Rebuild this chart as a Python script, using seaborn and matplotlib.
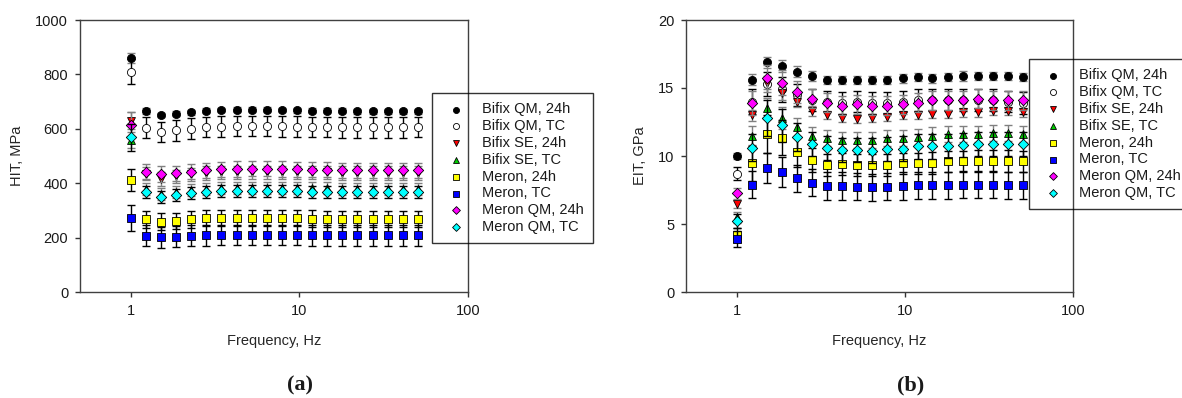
import matplotlib
matplotlib.use("Agg")
import matplotlib.pyplot as plt
import seaborn as sns

# --- data ---
freq = [1.0, 1.23, 1.51, 1.86, 2.28, 2.81, 3.45, 4.24, 5.21, 6.41,
        7.88, 9.69, 11.9, 14.6, 18.0, 22.1, 27.2, 33.4, 41.1, 50.5]

labels = ["Bifix QM, 24h", "Bifix QM, TC", "Bifix SE, 24h", "Bifix SE, TC",
          "Meron, 24h", "Meron, TC", "Meron QM, 24h", "Meron QM, TC"]

# HIT, MPa
hit_bqm_24 = [861, 665, 651, 655, 661, 667, 669, 670, 670, 670, 669, 668, 667, 667, 667, 665, 664, 664, 664, 665]
hit_bqm_tc = [810, 604, 588, 594, 600, 607, 608, 610, 610, 610, 609, 608, 607, 607, 606, 605, 605, 605, 606, 607]
hit_bse_24 = [630, 435, 415, 425, 432, 438, 440, 440, 440, 440, 440, 440, 440, 440, 438, 438, 438, 438, 438, 438]
hit_bse_tc = [560, 378, 362, 368, 374, 380, 382, 382, 383, 383, 382, 382, 381, 381, 380, 380, 380, 380, 380, 380]
hit_mer_24 = [412, 267, 259, 260, 267, 271, 272, 273, 272, 272, 272, 271, 270, 269, 269, 269, 269, 269, 269, 269]
hit_mer_tc = [272, 207, 201, 203, 207, 208, 210, 210, 210, 210, 209, 209, 208, 208, 208, 208, 208, 208, 208, 208]
hit_mqm_24 = [615, 442, 434, 436, 442, 448, 451, 452, 453, 453, 452, 451, 450, 449, 448, 447, 447, 447, 447, 447]
hit_mqm_tc = [569, 366, 350, 357, 363, 366, 370, 371, 370, 371, 370, 370, 369, 368, 368, 368, 367, 367, 367, 367]

hit_err_bqm_24 = [18, 10, 8, 9, 9, 9, 9, 9, 9, 9, 9, 9, 9, 9, 9, 9, 9, 9, 9, 9]
hit_err_bqm_tc = [47, 38, 38, 38, 38, 38, 38, 38, 38, 38, 38, 38, 38, 38, 38, 38, 38, 38, 38, 38]
hit_err_bse_24 = [30, 25, 25, 25, 25, 25, 25, 25, 25, 25, 25, 25, 25, 25, 25, 25, 25, 25, 25, 25]
hit_err_bse_tc = [30, 22, 22, 22, 22, 22, 22, 22, 22, 22, 22, 22, 22, 22, 22, 22, 22, 22, 22, 22]
hit_err_mer_24 = [40, 30, 30, 30, 30, 30, 30, 30, 30, 30, 30, 30, 30, 30, 30, 30, 30, 30, 30, 30]
hit_err_mer_tc = [48, 38, 38, 38, 38, 38, 38, 38, 38, 38, 38, 38, 38, 38, 38, 38, 38, 38, 38, 38]
hit_err_mqm_24 = [45, 28, 28, 28, 28, 28, 28, 28, 28, 28, 28, 28, 28, 28, 28, 28, 28, 28, 28, 28]
hit_err_mqm_tc = [50, 22, 22, 22, 22, 22, 22, 22, 22, 22, 22, 22, 22, 22, 22, 22, 22, 22, 22, 22]

# EIT, GPa
eit_bqm_24 = [10.0, 15.6, 16.9, 16.6, 16.2, 15.9, 15.6, 15.6, 15.6, 15.6, 15.6, 15.7, 15.8, 15.7, 15.8, 15.9, 15.9, 15.9, 15.9, 15.8]
eit_bqm_tc = [8.7, 14.0, 15.3, 14.9, 14.5, 14.1, 14.0, 13.9, 14.0, 13.9, 13.9, 14.0, 14.1, 14.1, 14.1, 14.1, 14.1, 14.1, 14.0, 13.9]
eit_bse_24 = [6.5, 13.0, 15.4, 14.6, 14.0, 13.3, 13.0, 12.8, 12.75, 12.8, 12.85, 13.0, 13.0, 13.1, 13.1, 13.2, 13.2, 13.3, 13.3, 13.2]
eit_bse_tc = [5.5, 11.5, 13.5, 12.8, 12.1, 11.5, 11.3, 11.2, 11.2, 11.2, 11.3, 11.3, 11.4, 11.5, 11.6, 11.6, 11.6, 11.7, 11.7, 11.6]
eit_mer_24 = [4.2, 9.45, 11.65, 11.35, 10.3, 9.7, 9.35, 9.4, 9.35, 9.35, 9.35, 9.45, 9.45, 9.5, 9.6, 9.6, 9.65, 9.65, 9.65, 9.6]
eit_mer_tc = [3.9, 7.9, 9.1, 8.8, 8.35, 8.05, 7.8, 7.8, 7.75, 7.7, 7.75, 7.8, 7.85, 7.85, 7.85, 7.9, 7.9, 7.9, 7.85, 7.85]
eit_mqm_24 = [7.25, 13.9, 15.7, 15.4, 14.7, 14.2, 13.9, 13.7, 13.8, 13.7, 13.7, 13.8, 13.9, 14.1, 14.1, 14.1, 14.2, 14.1, 14.1, 14.1]
eit_mqm_tc = [5.2, 10.6, 12.8, 12.25, 11.4, 10.9, 10.6, 10.45, 10.45, 10.4, 10.5, 10.55, 10.7, 10.7, 10.75, 10.8, 10.9, 10.9, 10.9, 10.9]

eit_err_bqm_24 = [0.2, 0.4, 0.4, 0.45, 0.4, 0.35, 0.3, 0.3, 0.3, 0.3, 0.3, 0.3, 0.3, 0.3, 0.3, 0.35, 0.3, 0.3, 0.3, 0.3]
eit_err_bqm_tc = [0.5, 0.9, 0.9, 0.9, 0.8, 0.8, 0.8, 0.8, 0.8, 0.8, 0.8, 0.8, 0.8, 0.8, 0.8, 0.8, 0.8, 0.8, 0.8, 0.8]
eit_err_bse_24 = [0.3, 0.4, 0.5, 0.5, 0.4, 0.35, 0.3, 0.3, 0.3, 0.3, 0.3, 0.3, 0.3, 0.3, 0.3, 0.3, 0.3, 0.3, 0.3, 0.3]
eit_err_bse_tc = [0.4, 0.7, 0.8, 0.8, 0.7, 0.6, 0.6, 0.6, 0.6, 0.6, 0.6, 0.6, 0.6, 0.6, 0.6, 0.6, 0.6, 0.6, 0.6, 0.6]
eit_err_mer_24 = [0.5, 1.3, 1.4, 1.3, 1.1, 0.9, 0.8, 0.8, 0.8, 0.8, 0.8, 0.8, 0.8, 0.8, 0.8, 0.8, 0.8, 0.8, 0.8, 0.8]
eit_err_mer_tc = [0.6, 1.0, 1.1, 1.1, 1.0, 1.0, 1.0, 1.0, 1.0, 1.0, 1.0, 1.0, 1.0, 1.0, 1.0, 1.0, 1.0, 1.0, 1.0, 1.0]
eit_err_mqm_24 = [0.4, 0.9, 1.0, 0.9, 0.8, 0.7, 0.7, 0.7, 0.7, 0.7, 0.7, 0.7, 0.7, 0.7, 0.7, 0.7, 0.7, 0.7, 0.7, 0.7]
eit_err_mqm_tc = [0.5, 1.0, 1.3, 1.2, 1.0, 0.9, 0.9, 0.9, 0.9, 0.9, 0.9, 0.9, 0.9, 0.9, 0.9, 0.9, 0.9, 0.9, 0.9, 0.9]

hit_series = [hit_bqm_24, hit_bqm_tc, hit_bse_24, hit_bse_tc, hit_mer_24, hit_mer_tc, hit_mqm_24, hit_mqm_tc]
hit_errors = [hit_err_bqm_24, hit_err_bqm_tc, hit_err_bse_24, hit_err_bse_tc,
              hit_err_mer_24, hit_err_mer_tc, hit_err_mqm_24, hit_err_mqm_tc]
eit_series = [eit_bqm_24, eit_bqm_tc, eit_bse_24, eit_bse_tc, eit_mer_24, eit_mer_tc, eit_mqm_24, eit_mqm_tc]
eit_errors = [eit_err_bqm_24, eit_err_bqm_tc, eit_err_bse_24, eit_err_bse_tc,
              eit_err_mer_24, eit_err_mer_tc, eit_err_mqm_24, eit_err_mqm_tc]

xticks = [1, 10, 100]
xtick_labels = ["1", "10", "100"]
hit_yticks = [0, 200, 400, 600, 800, 1000]
eit_yticks = [0, 5, 10, 15, 20]

# --- styling ---
colors = ["black", "white", "#ff0000", "#00cc00", "#ffff00", "#0000ff", "#ff00ff", "#00ffff"]
markers = ["o", "o", "v", "^", "s", "s", "D", "D"]
sizes = [34, 34, 32, 32, 32, 32, 28, 28]
bar_colors = ["#808080", "black", "#808080", "#808080", "black", "black", "#808080", "black"]

sns.set_style("ticks")
plt.rcParams["font.family"] = ["Liberation Sans", "DejaVu Sans"]
plt.rcParams["text.color"] = "#1a1a1a"

W, H = 1182, 398
fig = plt.figure(figsize=(W / 100, H / 100), dpi=100)
ax_a = fig.add_axes([80 / W, 1 - 292 / H, 388 / W, 272 / H])
ax_b = fig.add_axes([686 / W, 1 - 292 / H, 387 / W, 272 / H])


def draw_panel(ax, series, errors, yticks, ylabel, leg_x, leg_y):
    for i, (vals, errs) in enumerate(zip(series, errors)):
        ax.errorbar(freq, vals, yerr=errs, fmt="none", ecolor=bar_colors[i],
                    elinewidth=1, capsize=2.8, capthick=1, zorder=2 + i)
        sns.scatterplot(x=freq, y=vals, ax=ax, marker=markers[i], color=colors[i],
                        edgecolor="black", linewidth=0.6, s=sizes[i],
                        label=labels[i], zorder=3 + i)
    ax.set_xscale("log")
    ax.set_xlim(0.5, 100)
    ax.set_ylim(yticks[0], yticks[-1])
    ax.set_xticks(xticks)
    ax.set_xticklabels(xtick_labels)
    ax.minorticks_off()
    ax.set_yticks(yticks)
    ax.tick_params(labelsize=10.5, length=3.5, width=1, color="#333333",
                   labelcolor="#1a1a1a", pad=5)
    for sp in ax.spines.values():
        sp.set_color("#404040")
        sp.set_linewidth(1)
    ax.set_xlabel("Frequency, Hz", fontsize=10.5, labelpad=12)
    ax.set_ylabel(ylabel, fontsize=10.5, labelpad=8)
    leg = ax.legend(loc="upper left", bbox_to_anchor=(leg_x / W, 1 - leg_y / H),
                    bbox_transform=fig.transFigure, fontsize=10.5, frameon=True,
                    fancybox=False, edgecolor="black",
                    borderpad=0.65, borderaxespad=0, handlelength=2.0,
                    handletextpad=0.75, labelspacing=0.19, markerscale=0.75)
    # the right spine shows through the legend box in the reference
    leg.get_frame().set_facecolor("none")
    leg.get_frame().set_linewidth(1)
    leg.set_zorder(20)


draw_panel(ax_a, hit_series, hit_errors, hit_yticks, "HIT, MPa", 432, 93)
draw_panel(ax_b, eit_series, eit_errors, eit_yticks, "EIT, GPa", 1029, 59)

fig.text(300 / W, 1 - 385 / H, "(a)", ha="center", va="center", fontsize=16,
         fontweight="bold", family=["Liberation Serif", "DejaVu Serif"])
fig.text(911 / W, 1 - 385 / H, "(b)", ha="center", va="center", fontsize=16,
         fontweight="bold", family=["Liberation Serif", "DejaVu Serif"])

fig.savefig("out.png", dpi=100)
